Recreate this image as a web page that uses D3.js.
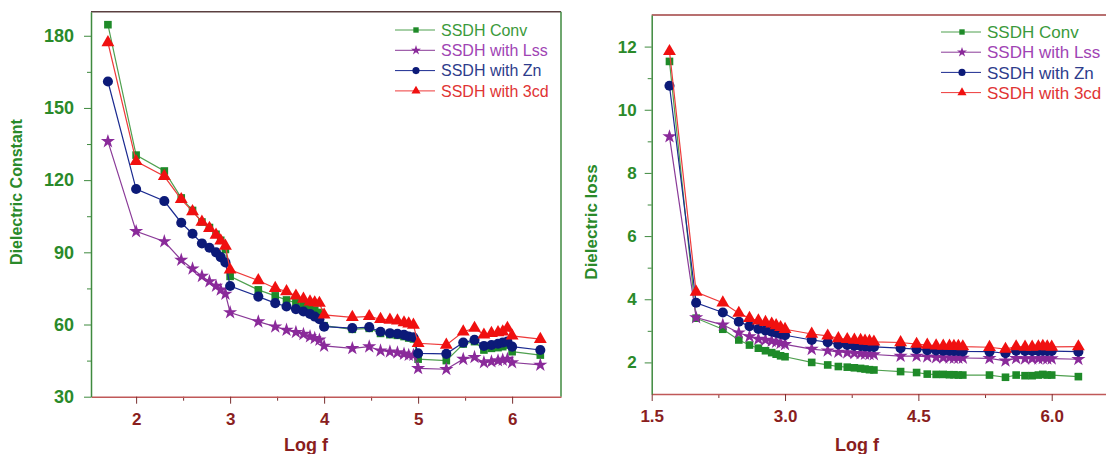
<!DOCTYPE html>
<html lang="en">
<head>
<meta charset="UTF-8">
<title>Dielectric constant and loss vs Log f</title>
<script src="https://d3js.org/d3.v7.min.js"></script>
<style>
    body { margin: 0; background: #fff; }
    svg { display: block; font-family: Arial, "Liberation Sans", sans-serif; }
    .tick text { font-weight: bold; }
</style>
</head>
<body>
<svg id="chart" width="1106" height="454"></svg>
<script>
// frequency points (Log f)
const logF = [1.7, 2, 2.3, 2.48, 2.6, 2.7, 2.78, 2.85, 2.9, 2.95, 3, 3.3, 3.48, 3.6, 3.7, 3.78, 3.85, 3.9, 3.95, 4,
    4.3, 4.48, 4.6, 4.7, 4.78, 4.85, 4.9, 4.95, 5, 5.3, 5.48, 5.6, 5.7, 5.78, 5.85, 5.9, 5.95, 6, 6.3];

const seriesNames = ["SSDH Conv", "SSDH with Lss", "SSDH with Zn", "SSDH with 3cd"];

// dielectric constant
const convConst = [184.6, 130.4, 123.8, 112.6, 107.4, 102.6, 100.3, 97.5, 95, 91.2, 80, 74.4, 71.9, 70.2, 69, 68, 67, 66, 65, 59.5,
    58, 58.4, 56.3, 55.8, 55.5, 55, 54.4, 54, 45.6, 45, 51.9, 52.9, 49.4, 50.1, 50.4, 50.8, 51.5, 48.7, 47.3];
const lssConst = [136.1, 98.7, 94.5, 86.8, 83.2, 80.1, 77.9, 76, 74.4, 72.7, 65, 61.2, 59.1, 57.7, 56.8, 56, 55, 54.3, 53.6, 51.1,
    50.1, 50.8, 49.1, 48.7, 48.3, 47.8, 47.3, 47.3, 41.8, 41.4, 45.6, 46.4, 44.2, 44.6, 45, 45.3, 45.6, 44.2, 43.2];
const znConst = [161, 116.3, 111.3, 102.3, 97.7, 93.7, 91.9, 90, 88, 85.8, 76, 71.6, 68.9, 67.5, 66.4, 65.4, 64.4, 63.3, 62.2, 59.1,
    58.5, 58.9, 57, 56.4, 56.1, 55.7, 55, 54.7, 48, 47.8, 52.5, 53.6, 51.1, 51.5, 52, 52.5, 52.9, 50.8, 49.4];
const cdConst = [177.2, 127.8, 121.6, 112, 107, 102.6, 100, 97.2, 94.8, 92.6, 82.7, 78.3, 75.1, 73.7, 71.9, 70.6, 69.5, 69.1, 68.9, 64,
    63, 63.4, 62.2, 61.9, 61.6, 60.8, 60.3, 59.8, 52.2, 51.5, 57, 58.5, 55.7, 56.4, 56.7, 57, 58.5, 55.3, 53.9];

// dielectric loss
const convLoss = [11.53, 3.4, 3.05, 2.71, 2.55, 2.45, 2.37, 2.31, 2.26, 2.21, 2.18, 2.0, 1.92, 1.87, 1.85, 1.83, 1.81, 1.79, 1.77, 1.76,
    1.71, 1.68, 1.63, 1.62, 1.62, 1.61, 1.61, 1.6, 1.6, 1.6, 1.53, 1.6, 1.58, 1.58, 1.6, 1.62, 1.6, 1.6, 1.55];
const lssLoss = [9.15, 3.42, 3.19, 2.94, 2.82, 2.74, 2.71, 2.68, 2.65, 2.61, 2.57, 2.42, 2.37, 2.33, 2.31, 2.29, 2.28, 2.27, 2.26, 2.25,
    2.2, 2.2, 2.18, 2.16, 2.15, 2.15, 2.14, 2.14, 2.14, 2.13, 2.05, 2.13, 2.12, 2.12, 2.12, 2.13, 2.12, 2.12, 2.1];
const znLoss = [10.76, 3.89, 3.58, 3.29, 3.15, 3.06, 3.01, 2.97, 2.94, 2.9, 2.86, 2.71, 2.64, 2.57, 2.55, 2.53, 2.52, 2.51, 2.5, 2.49,
    2.45, 2.42, 2.39, 2.38, 2.37, 2.37, 2.36, 2.36, 2.35, 2.34, 2.29, 2.37, 2.36, 2.36, 2.36, 2.37, 2.36, 2.36, 2.34];
const cdLoss = [11.85, 4.23, 3.89, 3.56, 3.4, 3.32, 3.27, 3.22, 3.17, 3.11, 3.05, 2.9, 2.84, 2.76, 2.73, 2.71, 2.7, 2.68, 2.67, 2.65,
    2.63, 2.58, 2.55, 2.53, 2.52, 2.52, 2.51, 2.51, 2.5, 2.48, 2.42, 2.5, 2.49, 2.49, 2.5, 2.51, 2.5, 2.49, 2.5];

const constYTicks = [30, 60, 90, 120, 150, 180];
const constXTicks = [2, 3, 4, 5, 6];
const lossYTicks = [2, 4, 6, 8, 10, 12];
const lossXTicks = [1.5, 3.0, 4.5, 6.0];

const styles = [
    { line: "#4fa04f", fill: "#1e8a28", text: "#3b9a3b", symbol: d3.symbolSquare, size: 58 },
    { line: "#8a3a98", fill: "#8a2a9a", text: "#a044b4", symbol: d3.symbolStar, size: 62 },
    { line: "#1a2a90", fill: "#0c1a78", text: "#2e3c8c", symbol: d3.symbolCircle, size: 80 },
    { line: "#ee3a3a", fill: "#f01010", text: "#e03434", symbol: d3.symbolTriangle, size: 72 }
];

const svg = d3.select("#chart");

function drawPanel(p) {
    const x = d3.scaleLinear().domain(p.xDomain).range(p.xRange);
    const y = d3.scaleLinear().domain(p.yDomain).range(p.yRange);
    const g = svg.append("g");

    // frame: top and right
    g.append("line").attr("x1", p.xRange[0]).attr("x2", p.xRange[1])
        .attr("y1", p.yRange[1]).attr("y2", p.yRange[1])
        .attr("stroke", p.topColor).attr("stroke-width", 1.5);
    g.append("line").attr("x1", p.xRange[1]).attr("x2", p.xRange[1])
        .attr("y1", p.yRange[0]).attr("y2", p.yRange[1])
        .attr("stroke", "#3f8a3f").attr("stroke-width", 1.5);

    // minor ticks
    g.append("g").attr("transform", `translate(0,${p.yRange[0]})`)
        .call(d3.axisBottom(x).tickValues(p.xMinor).tickSize(4).tickFormat(""))
        .call(a => a.select(".domain").remove())
        .selectAll("line").attr("stroke", "#7a3030");
    g.append("g").attr("transform", `translate(${p.xRange[0]},0)`)
        .call(d3.axisLeft(y).tickValues(p.yMinor).tickSize(4).tickFormat(""))
        .call(a => a.select(".domain").remove())
        .selectAll("line").attr("stroke", "#3f8a3f");

    // x axis
    const xa = g.append("g").attr("transform", `translate(0,${p.yRange[0]})`)
        .call(d3.axisBottom(x).tickValues(p.xTicks).tickSize(7).tickPadding(9)
            .tickFormat(p.xFormat).tickSizeOuter(0));
    xa.select(".domain").attr("stroke", "#c05858").attr("stroke-width", 1.5);
    xa.selectAll(".tick line").attr("stroke", "#7a3030");
    xa.selectAll("text").attr("fill", "#8a1e1e").style("font-size", "17px");

    // y axis
    const ya = g.append("g").attr("transform", `translate(${p.xRange[0]},0)`)
        .call(d3.axisLeft(y).tickValues(p.yTicks).tickSize(7).tickPadding(p.yPad).tickSizeOuter(0));
    ya.select(".domain").attr("stroke", "#3f8a3f").attr("stroke-width", 1.5);
    ya.selectAll(".tick line").attr("stroke", "#3f8a3f");
    ya.selectAll("text").attr("fill", "#2a8a2a").style("font-size", p.yTickSize);

    // titles
    g.append("text").attr("x", p.xTitleX).attr("y", 451).attr("text-anchor", "middle")
        .attr("fill", "#8a1e1e").style("font-size", "18px").style("font-weight", "bold").text("Log f");
    g.append("text").attr("transform", `translate(${p.yTitleX},${p.yTitleY}) rotate(-90)`)
        .attr("text-anchor", "middle").attr("fill", "#2a8a2a")
        .style("font-size", p.yTitleSize).style("font-weight", "bold").text(p.yTitle);

    // series
    const line = d3.line().x((d, i) => x(logF[i])).y(d => y(d));
    p.series.forEach((vals, k) => {
        const s = styles[k];
        g.append("path").datum(vals).attr("d", line)
            .attr("fill", "none").attr("stroke", s.line).attr("stroke-width", 1.2);
        g.selectAll(null).data(vals).enter().append("path")
            .attr("d", d3.symbol().type(s.symbol).size(s.size))
            .attr("transform", (d, i) => `translate(${x(logF[i])},${y(d)})`)
            .attr("fill", s.fill);
    });

    // legend
    seriesNames.forEach((name, k) => {
        const s = styles[k];
        const cy = p.legY + k * p.legStep;
        g.append("line").attr("x1", p.legX).attr("x2", p.legX + 40)
            .attr("y1", cy).attr("y2", cy).attr("stroke", s.line).attr("stroke-width", 1);
        g.append("path").attr("d", d3.symbol().type(s.symbol).size(s.size * 0.5))
            .attr("transform", `translate(${p.legX + 21},${cy})`).attr("fill", s.fill);
        g.append("text").attr("x", p.legX + 46).attr("y", cy).attr("dy", "0.36em")
            .attr("fill", s.text).style("font-size", p.legSize).text(name);
    });
}

drawPanel({
    xDomain: [1.52, 6.52], xRange: [91, 561],
    yDomain: [30, 190], yRange: [396.7, 11.7],
    xTicks: constXTicks, xMinor: [2.5, 3.5, 4.5, 5.5], xFormat: d3.format("d"),
    yTicks: constYTicks, yMinor: [45, 75, 105, 135, 165], yPad: 10, yTickSize: "18px",
    topColor: "#5a4040",
    xTitleX: 306, yTitleX: 22, yTitleY: 192, yTitle: "Dielectric Constant", yTitleSize: "16px",
    series: [convConst, lssConst, znConst, cdConst],
    legX: 395, legY: 30, legStep: 20.3, legSize: "16px"
});

drawPanel({
    xDomain: [1.5, 7.0], xRange: [651.7, 1140.6],
    yDomain: [1, 13], yRange: [394, 15],
    xTicks: lossXTicks, xMinor: [2.25, 3.75, 5.25], xFormat: d3.format(".1f"),
    yTicks: lossYTicks, yMinor: [3, 5, 7, 9, 11], yPad: 8, yTickSize: "17px",
    topColor: "#a04040",
    xTitleX: 857, yTitleX: 597, yTitleY: 222, yTitle: "Dielectric loss", yTitleSize: "17px",
    series: [convLoss, lssLoss, znLoss, cdLoss],
    legX: 941, legY: 32, legStep: 20.2, legSize: "17px"
});
</script>
</body>
</html>
